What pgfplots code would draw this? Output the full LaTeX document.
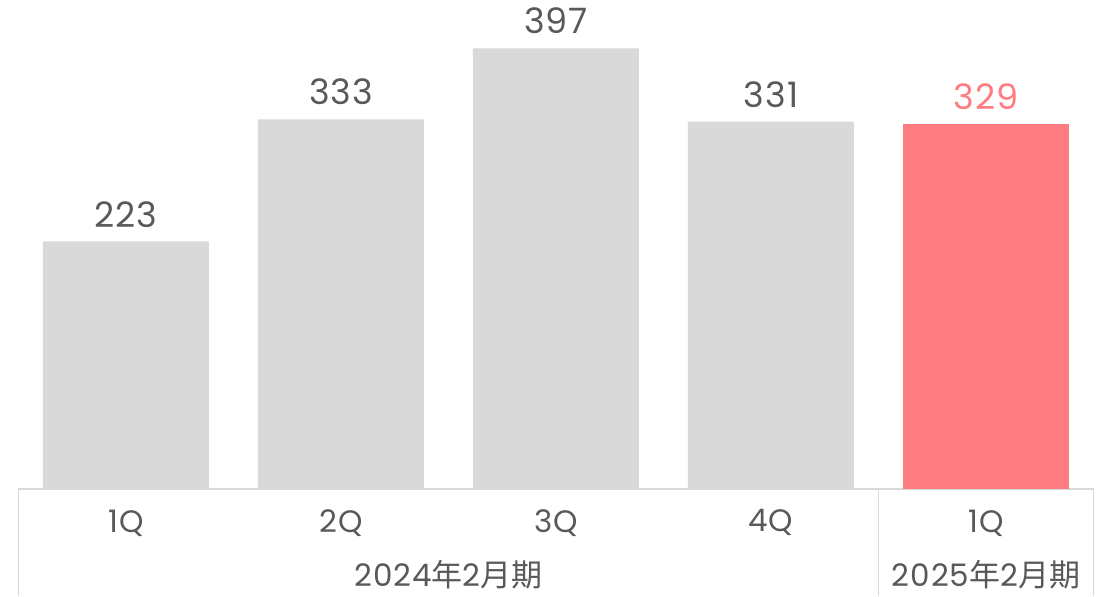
\documentclass[border=0pt]{standalone}
\usepackage{fontspec}
\setmainfont{Poppins}
\newfontfamily\cjk{Noto Sans CJK JP}
\usepackage{pgfplots}
\pgfplotsset{compat=1.18}
\definecolor{bargray}{HTML}{D9D9D9}
\definecolor{barred}{HTML}{FF7C80}
\definecolor{txt}{HTML}{595959}
\definecolor{framec}{HTML}{D9D9D9}
\begin{document}
\begin{tikzpicture}
\begin{axis}[
  scale only axis, width=1107pt, height=596pt,
  xmin=-0.586, xmax=4.563, ymin=-96.4, ymax=440.5,
  hide axis, clip=false,
  /pgf/number format/assume math mode=true,
  ybar, bar width=166pt, bar shift=0pt,
  nodes near coords,
  every node near coord/.append style={font=\fontsize{35}{40}\selectfont\addfontfeature{LetterSpace=3}, text=txt, anchor=south, inner sep=0pt, yshift=14pt},
]
\path (rel axis cs:0,0) rectangle (rel axis cs:1,1);
\draw[framec, line width=1.2pt] (axis cs:-0.5,-96.4) -- (axis cs:-0.5,0) -- (axis cs:4.5,0) -- (axis cs:4.5,-96.4);
\draw[framec, line width=1.2pt] (axis cs:3.5,0) -- (axis cs:3.5,-96.4);
\addplot[fill=bargray, draw=none] coordinates {(0,223) (1,333) (2,397) (3,331)};
\addplot[fill=barred, draw=none, every node near coord/.append style={text=barred}] coordinates {(4,329)};
\foreach \i/\l in {0/1Q,1/2Q,2/3Q,3/4Q,4/1Q}{
  \edef\tmp{\noexpand\node[text=txt, font=\noexpand\fontsize{31}{36}\noexpand\selectfont\noexpand\addfontfeature{LetterSpace=3}] at (axis cs:\i,-30.6) {\l};}
  \tmp
}
\node[text=txt, font=\fontsize{31}{36}\selectfont] at (axis cs:1.5,-77.5) {\addfontfeature{LetterSpace=3}2024{\cjk 年}2{\cjk 月期}};
\node[text=txt, font=\fontsize{31}{36}\selectfont] at (axis cs:4,-77.5) {\addfontfeature{LetterSpace=3}2025{\cjk 年}2{\cjk 月期}};
\end{axis}
\end{tikzpicture}
\end{document}
